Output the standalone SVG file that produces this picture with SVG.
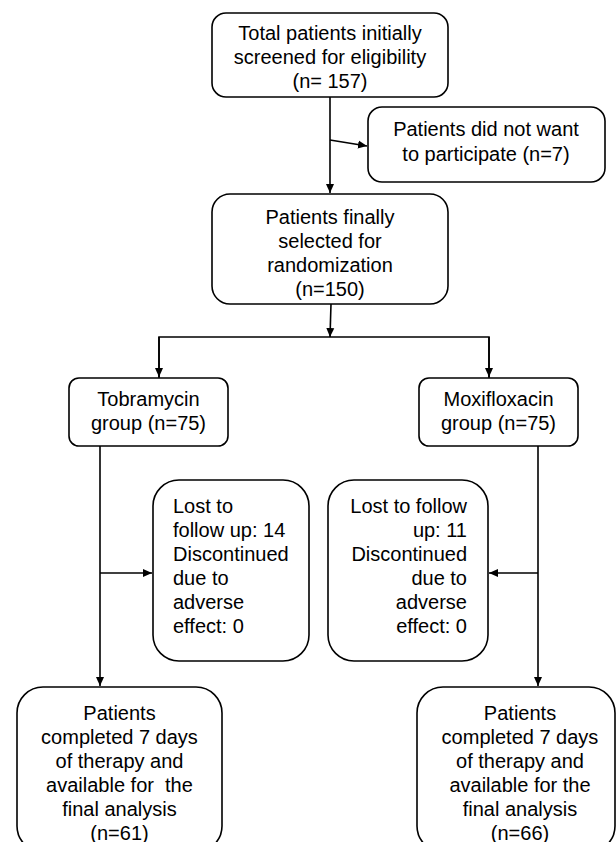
<svg xmlns="http://www.w3.org/2000/svg" width="616" height="842" viewBox="0 0 616 842">
<defs>
<marker id="ah" markerWidth="10" markerHeight="10" refX="9" refY="5" orient="auto" markerUnits="userSpaceOnUse">
<path d="M0,1 L9,5 L0,9 Z" fill="#000"/>
</marker>
<style>
.box{fill:#fff;stroke:#000;stroke-width:1.6}
.t{font-family:"Liberation Sans",Arial,sans-serif;font-size:20px;fill:#000;white-space:pre}
.c{text-anchor:middle}
.r{text-anchor:end}
.ln{fill:none;stroke:#000;stroke-width:1.6}
</style>
</defs>
<rect width="616" height="842" fill="#fff"/>

<g id="connectors">
<line class="ln" x1="330" y1="97" x2="330" y2="193" marker-end="url(#ah)"/>
<line class="ln" x1="330" y1="140" x2="367" y2="146" marker-end="url(#ah)"/>
<line class="ln" x1="331" y1="304" x2="330" y2="337" marker-end="url(#ah)"/>
<polyline class="ln" points="159,378 159,337 489,337 489,378"/>
<line class="ln" x1="159" y1="337" x2="159" y2="377" marker-end="url(#ah)"/>
<line class="ln" x1="489" y1="337" x2="489" y2="377" marker-end="url(#ah)"/>
<line class="ln" x1="100" y1="446" x2="100" y2="686" marker-end="url(#ah)"/>
<line class="ln" x1="100" y1="573" x2="152" y2="573" marker-end="url(#ah)"/>
<line class="ln" x1="538" y1="446" x2="538" y2="686" marker-end="url(#ah)"/>
<line class="ln" x1="538" y1="573" x2="489" y2="573" marker-end="url(#ah)"/>
</g>

<g id="screened">
<rect class="box" x="212" y="13" width="236" height="84" rx="14"/>
<text class="t c" x="330" y="40">Total patients initially</text>
<text class="t c" x="330" y="64">screened for eligibility</text>
<text class="t c" x="330" y="88">(n= 157)</text>
</g>

<g id="declined">
<rect class="box" x="368" y="107" width="237" height="75" rx="14"/>
<text class="t c" x="486" y="136">Patients did not want</text>
<text class="t c" x="486" y="161">to participate (n=7)</text>
</g>

<g id="randomized">
<rect class="box" x="212" y="194" width="236" height="110" rx="18"/>
<text class="t c" x="330" y="224">Patients finally</text>
<text class="t c" x="330" y="248">selected for</text>
<text class="t c" x="330" y="272">randomization</text>
<text class="t c" x="330" y="296">(n=150)</text>
</g>

<g id="tobramycin">
<rect class="box" x="69" y="378" width="159" height="68" rx="10"/>
<text class="t c" x="148.5" y="406">Tobramycin</text>
<text class="t c" x="148.5" y="430">group (n=75)</text>
</g>

<g id="moxifloxacin">
<rect class="box" x="419" y="378" width="159" height="68" rx="10"/>
<text class="t c" x="498.5" y="406">Moxifloxacin</text>
<text class="t c" x="498.5" y="430">group (n=75)</text>
</g>

<g id="lost-tobra">
<rect class="box" x="153" y="480" width="156" height="181" rx="26"/>
<text class="t" x="173" y="513">Lost to</text>
<text class="t" x="173" y="537">follow up: 14</text>
<text class="t" x="173" y="561">Discontinued</text>
<text class="t" x="173" y="585">due to</text>
<text class="t" x="173" y="609">adverse</text>
<text class="t" x="173" y="633">effect: 0</text>
</g>

<g id="lost-moxi">
<rect class="box" x="328" y="480" width="160" height="181" rx="26"/>
<text class="t r" x="467" y="513">Lost to follow</text>
<text class="t r" x="467" y="537">up: 11</text>
<text class="t r" x="467" y="561">Discontinued</text>
<text class="t r" x="467" y="585">due to</text>
<text class="t r" x="467" y="609">adverse</text>
<text class="t r" x="467" y="633">effect: 0</text>
</g>

<g id="final-tobra">
<rect class="box" x="17" y="687" width="205" height="165" rx="26"/>
<text class="t c" x="119.5" y="720">Patients</text>
<text class="t c" x="119.5" y="744">completed 7 days</text>
<text class="t c" x="119.5" y="768">of therapy and</text>
<text class="t c" x="119.5" y="792">available for  the</text>
<text class="t c" x="119.5" y="816">final analysis</text>
<text class="t c" x="119.5" y="840">(n=61)</text>
</g>

<g id="final-moxi">
<rect class="box" x="417" y="687" width="198" height="165" rx="26"/>
<text class="t c" x="520" y="720">Patients</text>
<text class="t c" x="520" y="744">completed 7 days</text>
<text class="t c" x="520" y="768">of therapy and</text>
<text class="t c" x="520" y="792">available for the</text>
<text class="t c" x="520" y="816">final analysis</text>
<text class="t c" x="520" y="840">(n=66)</text>
</g>
</svg>
